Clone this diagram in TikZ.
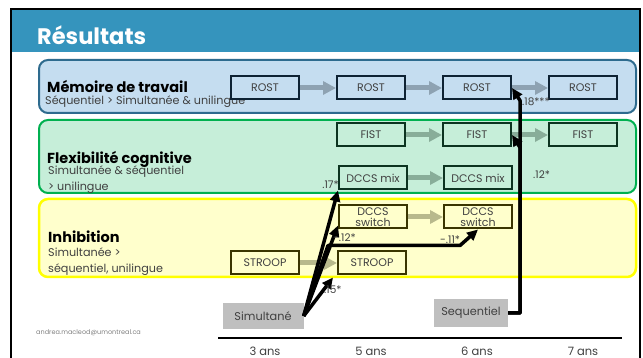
\documentclass[tikz,border=0pt]{standalone}
\usepackage{fontspec}
\setmainfont{Poppins}
\usetikzlibrary{arrows.meta}

\definecolor{titlebar}{HTML}{3594BD}
\definecolor{memfill}{HTML}{C5DDF0}
\definecolor{memedge}{HTML}{2E6B8E}
\definecolor{memnode}{HTML}{0E2233}
\definecolor{memarr}{HTML}{8EA2B2}
\definecolor{flexfill}{HTML}{C6EED9}
\definecolor{flexedge}{HTML}{00B050}
\definecolor{flexnode}{HTML}{0C3320}
\definecolor{flexarr}{HTML}{88AD99}
\definecolor{inhfill}{HTML}{FFFFCC}
\definecolor{inhedge}{HTML}{FFFF00}
\definecolor{inhnode}{HTML}{3A3500}
\definecolor{inharr}{HTML}{B8B98C}
\definecolor{tasktext}{HTML}{404040}
\definecolor{agebox}{HTML}{BFBFBF}

\tikzset{
  panel/.style={rounded corners=9pt, line width=2pt},
  task/.style={draw, line width=2pt, minimum width=68pt, minimum height=23pt,
    inner sep=1pt, font=\fontsize{11}{11.5}\selectfont, text=tasktext},
  memtask/.style={task, draw=memnode, fill=memfill},
  flextask/.style={task, draw=flexnode, fill=flexfill},
  inhtask/.style={task, draw=inhnode, fill=inhfill},
  grayarr/.style={line width=5pt, -{Triangle[length=13pt,width=13pt]}},
  blk/.style={line width=3.5pt, line join=round, -{Triangle[length=11pt,width=10pt]}},
  paneltitle/.style={anchor=base west, inner sep=0pt, font=\fontsize{14.5}{14.5}\selectfont\bfseries},
  panelsub/.style={anchor=base west, inner sep=0pt, font=\fontsize{11.2}{11.2}\selectfont, text=tasktext},
  coef/.style={inner sep=0pt, font=\fontsize{10.5}{10.5}\selectfont, text=tasktext},
  group/.style={fill=agebox, minimum height=25pt, inner sep=2pt, font=\fontsize{11.3}{11.3}\selectfont, text=tasktext}
}

\begin{document}
\begin{tikzpicture}[x=1pt,y=-1pt]
\useasboundingbox (0,0) rectangle (643,358);
% slide
\fill[white] (0,0) rectangle (643,358);
\fill[titlebar] (11,9) rectangle (640,52);
\draw[line width=2pt] (11,9) rectangle (640,370);
\node[anchor=base west, inner sep=0pt, text=white, font=\fontsize{22.5}{22.5}\selectfont\bfseries] (title) at (37,45) {Résultats};

% panels
\draw[panel, draw=memedge, fill=memfill] (39,60) rectangle (636,113);
\draw[panel, draw=flexedge, fill=flexfill] (39,120) rectangle (636,193);
\draw[panel, draw=inhedge, fill=inhfill, line width=2.5pt] (39,199) rectangle (636,277);

\node[paneltitle] (memtitle) at (47,93) {Mémoire de travail};
\node[panelsub] (memsub) at (45,105) {Séquentiel > Simultanée \& unilingue};
\node[paneltitle] (flextitle) at (47,164) {Flexibilité cognitive};
\node[panelsub] (flexsub) at (48,175) {Simultanée \& séquentiel};
\node[panelsub] (flexsub2) at (48,191) {> unilingue};
\node[paneltitle] (inhtitle) at (48,243) {Inhibition};
\node[panelsub] (inhsub) at (48,257) {Simultanée >};
\node[panelsub] (inhsub2) at (48,273) {séquentiel, unilingue};

% tasks
\foreach \c/\x in {1/265,2/371,3/477,4/583} {
\node[memtask] (rost\c) at (\x,88) {ROST};
}
\foreach \c/\x in {2/371,3/477,4/583} {
\node[flextask] (fist\c) at (\x,135) {FIST};
}
\foreach \c/\x in {2/373,3/478} {
\node[flextask] (mix\c) at (\x,178) {DCCS mix};
\node[inhtask, align=center] (switch\c) at (\x,217) {DCCS\\switch};
}
\node[inhtask] (stroop1) at (265,263) {STROOP};
\node[inhtask] (stroop2) at (372,263) {STROOP};

% stability
\foreach \a/\b in {1/2,2/3,3/4} {
\draw[grayarr, memarr] (rost\a) -- (rost\b);
}
\draw[grayarr, flexarr] (fist2) -- (fist3);
\draw[grayarr, flexarr] (fist3) -- (fist4);
\draw[grayarr, flexarr] (mix2) -- (mix3);
\draw[grayarr, inharr] (switch2) -- (switch3);
\draw[grayarr, inharr] (stroop1) -- (stroop2);

% groups
\node[group, minimum width=81pt] (simul) at (263,316) {Simultané};
\node[group, minimum width=74pt, minimum height=27pt] (seq) at (471,313) {Sequentiel};

\draw[blk] (seq.east) -| ([xshift=8pt]rost3.south east) -- (rost3.east);
\draw[blk] (seq.east) -| ([xshift=8pt]fist3.south east) -- (fist3.east);
\draw[blk] (simul.east) -- (mix2.south west);
\draw[blk] (simul.east) -- ([yshift=4pt]switch2.south west);
\draw[blk] (simul.east) -- ([xshift=-10pt,yshift=-16pt]switch2.south west)
  -- ([xshift=-18pt,yshift=-16pt]switch3.south) -- (switch3.south);
\draw[blk] (simul.east) -- ([xshift=-4pt,yshift=-2pt]stroop2.south west);

\node[coef, anchor=west] (c18) at (522,102) {.18***};
\node[coef, anchor=west] (c12) at (533,175) {.12*};
\node[coef, anchor=east] (c17) at (339,185) {.17*};
\node[coef, anchor=west] (c12n) at (333,238) {-.12*};
\node[coef, anchor=west] (c11n) at (440,240) {-.11*};
\node[coef, anchor=west] (c15) at (324,290) {.15*};

% time axis
\draw[line width=1.5pt] (218,338) -- (622,338);
\foreach \x/\t in {265/3,371/5,477/6,583/7} {
\node[font=\fontsize{11.5}{11.5}\selectfont, text=tasktext] at (\x,351) {\t{} ans};
}
\node[anchor=west, inner sep=0pt, text=gray, font=\fontsize{6.5}{6.5}\selectfont] (mail) at (36,333) {andrea.macleod@umontreal.ca};
\end{tikzpicture}
\end{document}
